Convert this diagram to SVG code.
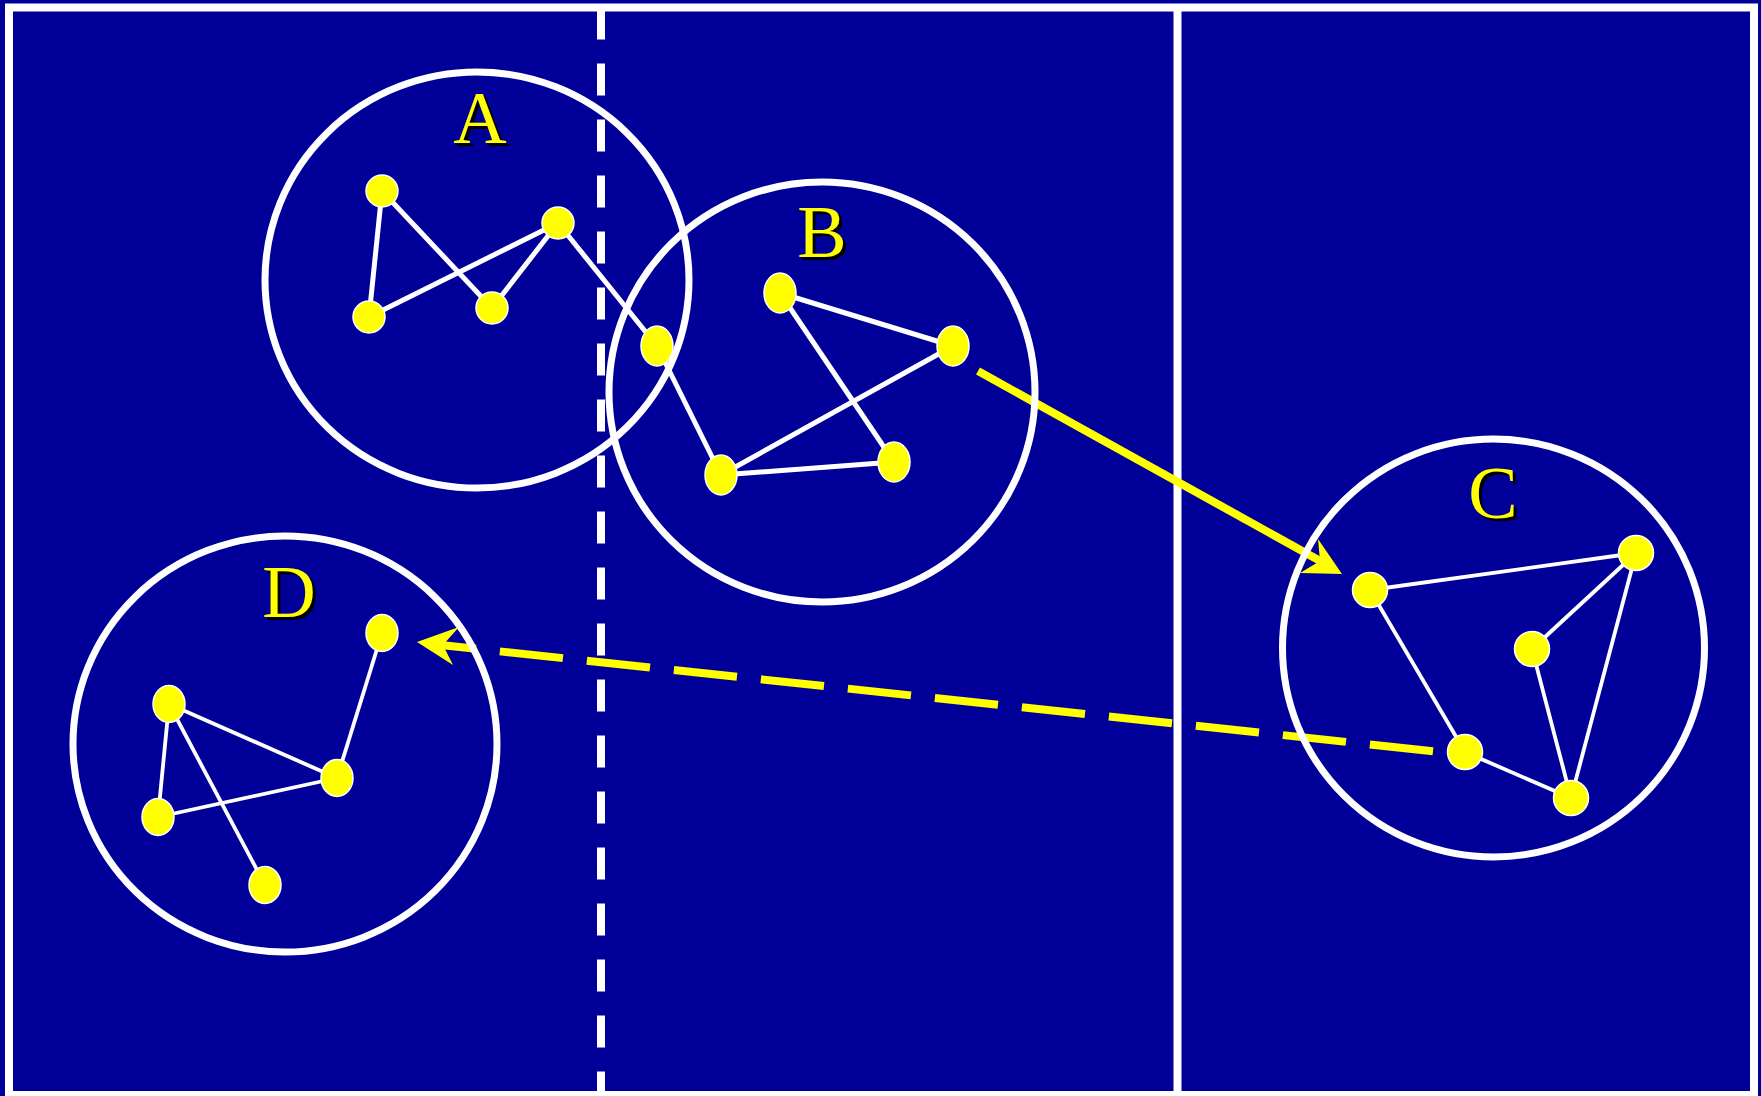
<svg xmlns="http://www.w3.org/2000/svg" width="1761" height="1096" viewBox="0 0 1761 1096">
<style>
.ring{fill:none;stroke:#fff;stroke-width:7}
.e5{stroke:#fff;stroke-width:5;fill:none}
.e4{stroke:#fff;stroke-width:3.8;fill:none}
.pt{fill:#ffff00;stroke:#fff;stroke-width:1.5}
.lbl{font-family:"Liberation Serif","Times New Roman",serif;font-size:74px;text-anchor:middle}
.sh{fill:#000}
.fg{fill:#ffff00}
.arr{stroke:#ffff00;stroke-width:8;fill:none}
.head{fill:#ffff00}
</style>
<rect x="0" y="0" width="1761" height="1096" fill="#000099"/>
<rect x="9" y="7.5" width="1745" height="1087.5" fill="none" stroke="#fff" stroke-width="8"/>
<line x1="601" y1="7.5" x2="601" y2="1095" stroke="#fff" stroke-width="8" stroke-dasharray="32 24"/>
<line x1="1177.5" y1="7.5" x2="1177.5" y2="1095" stroke="#fff" stroke-width="8"/>

<g id="connectors">
<line class="arr" x1="978" y1="371" x2="1322" y2="562"/>
<polygon class="head" points="1342,574 1318,539 1320,561 1300,573"/>
<line class="arr" x1="1433" y1="751.2" x2="443" y2="645.3" stroke-dasharray="63.5 24"/>
<polygon class="head" points="417,642 459,627 443,645 453,665"/>
</g>

<g id="clusterA">
<ellipse class="ring" cx="477" cy="280" rx="212" ry="208"/>
<line class="e5" x1="382" y1="191" x2="369" y2="317"/>
<line class="e5" x1="382" y1="191" x2="492" y2="308"/>
<line class="e5" x1="369" y1="317" x2="558" y2="223"/>
<line class="e5" x1="492" y1="308" x2="558" y2="223"/>
<line class="e5" x1="558" y1="223" x2="657" y2="346"/>
<line class="e5" x1="657" y1="346" x2="721" y2="475"/>
<ellipse id="a1" class="pt" cx="382" cy="191" rx="16" ry="16"/>
<ellipse id="a2" class="pt" cx="369" cy="317" rx="16" ry="16"/>
<ellipse id="a3" class="pt" cx="492" cy="308" rx="16" ry="16"/>
<ellipse id="a4" class="pt" cx="558" cy="223" rx="16" ry="16"/>
<ellipse id="a5" class="pt" cx="657" cy="346" rx="16" ry="20"/>
<text class="lbl sh" x="483" y="146">A</text>
<text class="lbl fg" x="480" y="143">A</text>
</g>

<g id="clusterB">
<ellipse class="ring" cx="822" cy="392" rx="213" ry="210"/>
<line class="e5" x1="780" y1="293" x2="953" y2="346"/>
<line class="e5" x1="780" y1="293" x2="894" y2="462"/>
<line class="e5" x1="953" y1="346" x2="721" y2="475"/>
<line class="e5" x1="721" y1="475" x2="894" y2="462"/>
<ellipse id="b1" class="pt" cx="780" cy="293" rx="16" ry="20"/>
<ellipse id="b2" class="pt" cx="953" cy="346" rx="16" ry="20"/>
<ellipse id="b3" class="pt" cx="721" cy="475" rx="16" ry="20"/>
<ellipse id="b4" class="pt" cx="894" cy="462" rx="16" ry="20"/>
<text class="lbl sh" x="825" y="260">B</text>
<text class="lbl fg" x="822" y="257">B</text>
</g>

<g id="clusterC">
<ellipse class="ring" cx="1493.5" cy="648" rx="211" ry="209"/>
<line class="e4" x1="1370" y1="590" x2="1636" y2="553"/>
<line class="e4" x1="1370" y1="590" x2="1465" y2="752"/>
<line class="e4" x1="1636" y1="553" x2="1532" y2="649"/>
<line class="e4" x1="1636" y1="553" x2="1571" y2="798"/>
<line class="e4" x1="1532" y1="649" x2="1571" y2="798"/>
<line class="e4" x1="1465" y1="752" x2="1571" y2="798"/>
<ellipse id="c1" class="pt" cx="1370" cy="590" rx="17.5" ry="17.5"/>
<ellipse id="c2" class="pt" cx="1636" cy="553" rx="17.5" ry="17.5"/>
<ellipse id="c3" class="pt" cx="1532" cy="649" rx="17.5" ry="17.5"/>
<ellipse id="c4" class="pt" cx="1465" cy="752" rx="17.5" ry="17.5"/>
<ellipse id="c5" class="pt" cx="1571" cy="798" rx="17.5" ry="17.5"/>
<text class="lbl sh" x="1496" y="521">C</text>
<text class="lbl fg" x="1493" y="518">C</text>
</g>

<g id="clusterD">
<ellipse class="ring" cx="285" cy="744" rx="212" ry="208"/>
<line class="e4" x1="382" y1="633" x2="337" y2="778"/>
<line class="e4" x1="169" y1="704" x2="337" y2="778"/>
<line class="e4" x1="169" y1="704" x2="158" y2="817"/>
<line class="e4" x1="169" y1="704" x2="265" y2="885"/>
<line class="e4" x1="337" y1="778" x2="158" y2="817"/>
<ellipse id="d1" class="pt" cx="382" cy="633" rx="16" ry="18.5"/>
<ellipse id="d2" class="pt" cx="169" cy="704" rx="16" ry="18.5"/>
<ellipse id="d3" class="pt" cx="337" cy="778" rx="16" ry="18.5"/>
<ellipse id="d4" class="pt" cx="158" cy="817" rx="16" ry="18.5"/>
<ellipse id="d5" class="pt" cx="265" cy="885" rx="16" ry="18.5"/>
<text class="lbl sh" x="292" y="620">D</text>
<text class="lbl fg" x="289" y="617">D</text>
</g>
</svg>
